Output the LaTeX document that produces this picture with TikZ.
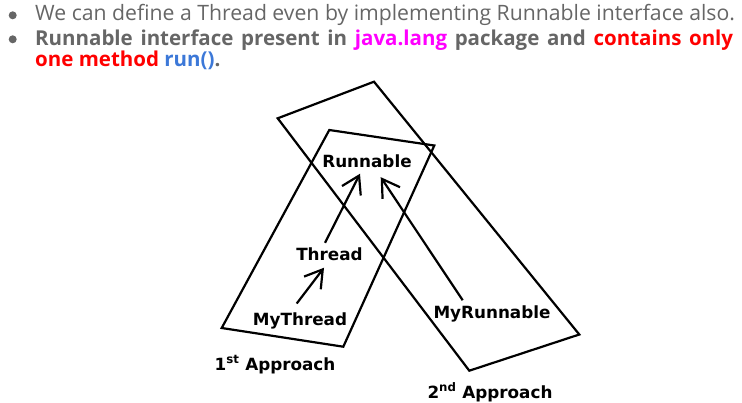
\documentclass[tikz,border=0pt]{standalone}
\usepackage{fontspec}
\setmainfont{DejaVu Sans}
\newfontfamily\hdr{Open Sans}
\usetikzlibrary{arrows.meta}
\definecolor{txtgray}{HTML}{666666}
\definecolor{jmag}{HTML}{FF00FF}
\definecolor{jred}{HTML}{FF0000}
\definecolor{jblue}{HTML}{3C78D8}
\begin{document}
\begin{tikzpicture}[x=1pt,y=-1pt,
  frame/.style={draw=black,line width=2.2pt,line join=miter},
  lbl/.style={font=\fontsize{16.8}{18}\selectfont\bfseries,inner sep=1pt,anchor=base},
  arr/.style={line width=2.2pt,-{Straight Barb[length=17pt,width=21pt]}},
  hdrtext/.style={font=\hdr\fontsize{21.2}{24}\selectfont,text=txtgray,inner sep=0pt,anchor=base west},
  hdrbold/.style={hdrtext,font=\hdr\fontsize{20.5}{24}\selectfont\bfseries},
  bulletdot/.style={circle,fill=txtgray,inner sep=0pt,minimum size=8pt}]
\useasboundingbox (0,0) rectangle (742,402);
% header
\node[bulletdot] (b1) at (12.7,15.3) {};
\node[bulletdot] (b2) at (12.7,39.3) {};
\node[hdrtext] (l1) at (35,20.7) {We can define a Thread even by implementing Runnable interface also.};
\node[hdrbold] (l2) at (35,45)
  {\makebox[698pt][s]{Runnable interface present in \textcolor{jmag}{java.lang} package and \textcolor{jred}{contains only}}};
\node[hdrbold] (l3) at (35,66.7)
  {\textcolor{jred}{one method} \textcolor{jblue}{run()}.};
% frames
\draw[frame] (329.3,130) -- (434.3,145.5) -- (343.3,346.7) -- (221.7,328) -- cycle;
\draw[frame] (374,81.7) -- (579.3,334.5) -- (469.3,370.7) -- (277.7,118.3) -- cycle;
% labels
\node[lbl] (run) at (367,167.3) {Runnable};
\node[lbl] (thread) at (329.5,260.5) {Thread};
\node[lbl] (mythread) at (300,325) {MyThread};
\node[lbl] (myrun) at (492,318.3) {MyRunnable};
\node[lbl] (app1) at (275,370) {1\textsuperscript{st} Approach};
\node[lbl] (app2) at (490,398) {2\textsuperscript{nd} Approach};
% arrows
\draw[arr] ([xshift=-4.5pt,yshift=3.7pt]thread.north) -- ([xshift=-7pt,yshift=-5pt]run.south);
\draw[arr] ([xshift=-29.3pt,yshift=4.1pt]myrun.north) -- ([xshift=13.7pt,yshift=-8.4pt]run.south);
\draw[arr] ([xshift=-3.3pt,yshift=7.5pt]mythread.north) -- ([xshift=-5.5pt,yshift=-5.8pt]thread.south);
\end{tikzpicture}
\end{document}
